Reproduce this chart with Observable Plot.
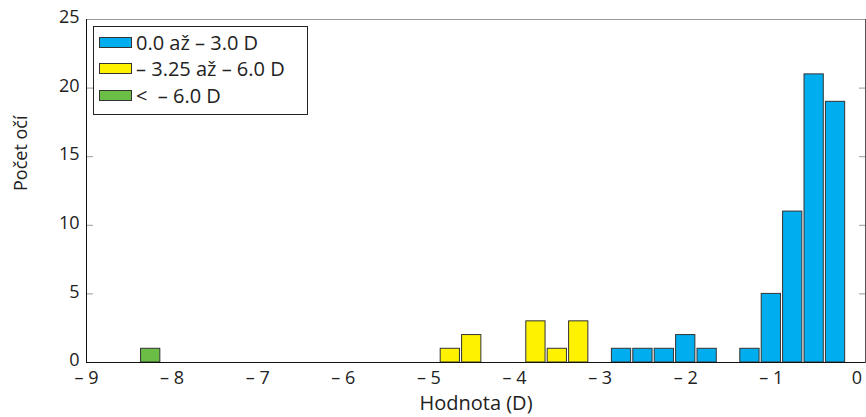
<!DOCTYPE html>
<html>
<head>
<meta charset="utf-8">
<script src="https://cdn.jsdelivr.net/npm/d3@7"></script>
<script src="https://cdn.jsdelivr.net/npm/@observablehq/plot@0.6"></script>
<style>
  body { margin: 0; background: #fff; }
  #chart { position: relative; width: 866px; height: 417px; font-family: "Open Sans", sans-serif; color: #222; }
  #legend {
    position: absolute; left: 93px; top: 26px; width: 213px; height: 85px;
    border: 1px solid #222; background: #fff; box-sizing: content-box;
    padding-top: 2px; font-size: 20px;
  }
  .row { display: flex; align-items: center; height: 26.5px; padding-left: 5px; white-space: pre; }
  .sw { width: 31px; height: 9px; border: 1px solid #333; margin-right: 4px; }
</style>
</head>
<body>
<div id="chart"></div>
<script>
// Bin centres (D) and eye counts for each refraction group
const blueCenters = [-0.25, -0.5, -0.75, -1.0, -1.25, -1.75, -2.0, -2.25, -2.5, -2.75];
const blueCounts = [19, 21, 11, 5, 1, 1, 2, 1, 1, 1];
const yellowCenters = [-3.25, -3.5, -3.75, -4.5, -4.75];
const yellowCounts = [3, 1, 3, 2, 1];
const greenCenters = [-8.25];
const greenCounts = [1];

const groupNames = ["0.0 až \u2013 3.0 D", "\u2013 3.25 až \u2013 6.0 D", "<  \u2013 6.0 D"];
const groupColors = ["#00aeef", "#fff200", "#6abd45"];

const xTicks = [-9, -8, -7, -6, -5, -4, -3, -2, -1, 0];
const yTicks = [0, 5, 10, 15, 20, 25];

const barWidth = 0.225; // 90 % of the 0.25 D bin

const rows = [
  ...blueCenters.map((c, i) => ({c, n: blueCounts[i], g: 0})),
  ...yellowCenters.map((c, i) => ({c, n: yellowCounts[i], g: 1})),
  ...greenCenters.map((c, i) => ({c, n: greenCounts[i], g: 2}))
];

const fmtX = d => d === 0 ? "0" : "\u2013 " + Math.abs(d);

const plot = Plot.plot({
  width: 866,
  height: 417,
  marginLeft: 86,
  marginRight: 1,
  marginTop: 19,
  marginBottom: 55,
  style: {fontFamily: "Open Sans, sans-serif", fontSize: "18px", color: "#222", background: "#fff"},
  x: {domain: [-9, 0.1]},
  y: {domain: [0, 25]},
  marks: [
    Plot.rectY(rows, {
      x1: d => d.c - barWidth / 2,
      x2: d => d.c + barWidth / 2,
      y: "n",
      fill: d => groupColors[d.g],
      stroke: "#333",
      strokeWidth: 1
    }),
    // inward tick marks on both vertical sides
    Plot.axisY({ticks: yTicks, anchor: "left", tickSize: -7, fill: "none", stroke: "#999", label: null}),
    Plot.axisY({ticks: yTicks, anchor: "right", tickSize: -7, fill: "none", stroke: "#999", label: null}),
    Plot.axisY({ticks: yTicks, anchor: "left", tickSize: 0, tickPadding: 7, dy: -2, label: null, fontSize: 18}),
    Plot.axisX({ticks: xTicks, tickFormat: fmtX, tickSize: 0, tickPadding: 9, label: null, fontSize: 18}),
    Plot.frame({stroke: "#555"}),
    Plot.ruleY([25], {stroke: "#999"}),
    Plot.ruleY([0], {stroke: "#111"}),
    Plot.ruleX([-9], {stroke: "#111"}),
    Plot.text(["Hodnota (D)"], {frameAnchor: "bottom", dy: 47, fontSize: 20, fill: "#222"}),
    Plot.text(["Počet očí"], {frameAnchor: "left", dx: -65, rotate: -90, fontSize: 18, fill: "#222"})
  ]
});

const chart = document.getElementById("chart");
chart.appendChild(plot);

const legend = document.createElement("div");
legend.id = "legend";
groupNames.forEach((name, i) => {
  const row = document.createElement("div");
  row.className = "row";
  const sw = document.createElement("span");
  sw.className = "sw";
  sw.style.background = groupColors[i];
  row.appendChild(sw);
  row.appendChild(document.createTextNode(name));
  legend.appendChild(row);
});
chart.appendChild(legend);
</script>
</body>
</html>
